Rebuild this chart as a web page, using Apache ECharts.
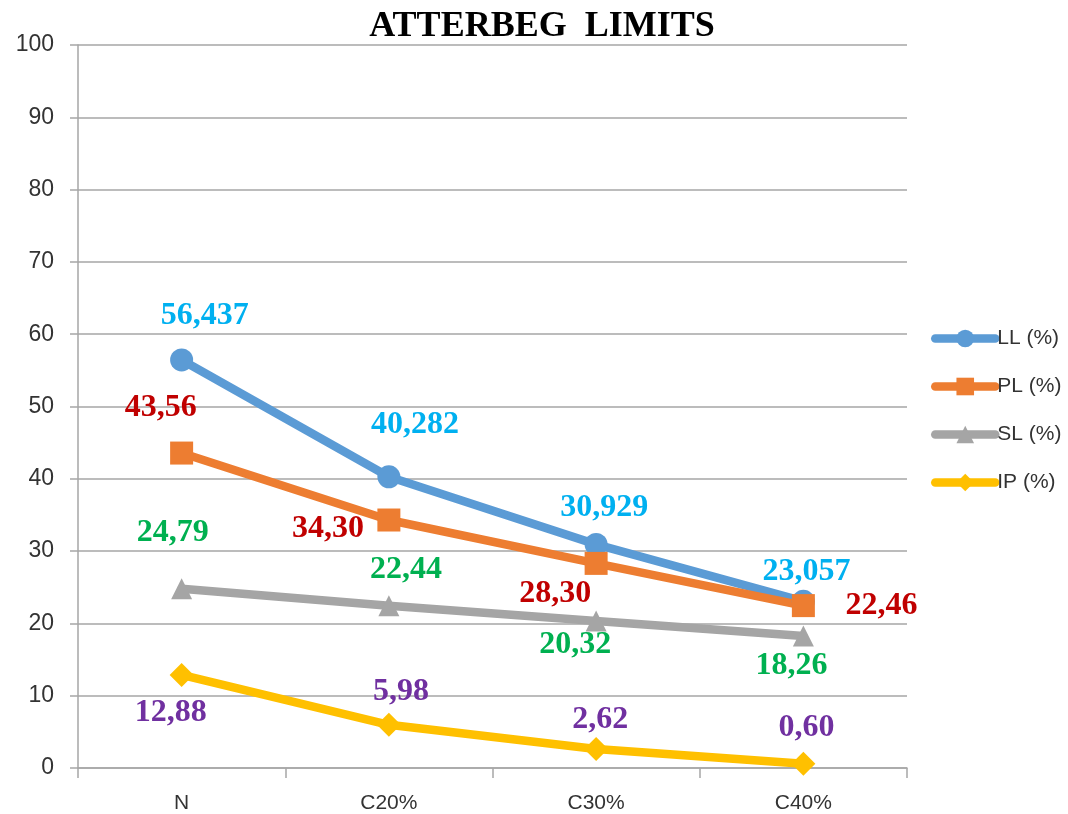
<!DOCTYPE html>
<html>
<head>
<meta charset="utf-8">
<script src="https://cdn.jsdelivr.net/npm/echarts@6/dist/echarts.min.js"></script>
<style>
  html, body { margin: 0; padding: 0; background: #fff; }
  #chart { width: 1068px; height: 814px; }
</style>
</head>
<body>
<div id="chart"></div>
<script>
var categories = ['N', 'C20%', 'C30%', 'C40%'];
var seriesNames = ['LL (%)', 'PL (%)', 'SL (%)', 'IP (%)'];
var llValues = [56.437, 40.282, 30.929, 23.057];
var plValues = [43.56, 34.30, 28.30, 22.46];
var slValues = [24.79, 22.44, 20.32, 18.26];
var ipValues = [12.88, 5.98, 2.62, 0.60];
var yTicks = [0, 100, 10];

// where each data label sits relative to its point (pixels)
var llOffsets = [[23, -44], [26, -52], [8, -37], [3, -30]];
var plOffsets = [[-21, -45], [-61, 9], [-41, 30], [78, 0]];
var slOffsets = [[-9, -56], [17, -36], [-21, 24], [-12, 30]];
var ipOffsets = [[-11, 38], [12, -33], [4, -29], [3, -36]];

function fmt(v, dec) {
    return v.toFixed(dec).replace('.', ',');
}

function buildSeries(name, values, offsets, color, labelColor, symbol, size, dec) {
    return {
        name: name,
        type: 'line',
        symbol: symbol,
        symbolSize: size,
        lineStyle: { width: 8.5, color: color, cap: 'round', join: 'round' },
        itemStyle: { color: color },
        data: values.map(function (v, i) {
            return {
                value: v,
                label: {
                    show: true,
                    position: 'inside',
                    offset: offsets[i],
                    formatter: fmt(v, dec),
                    color: labelColor,
                    fontFamily: 'Liberation Serif',
                    fontWeight: 'bold',
                    fontSize: 32
                }
            };
        }),
        z: 2
    };
}

var myChart = echarts.init(document.getElementById('chart'));
myChart.setOption({
    animation: false,
    backgroundColor: '#fff',
    title: {
        text: 'ATTERBEG  LIMITS',
        left: 537,
        textAlign: 'center',
        top: 4,
        textStyle: { fontFamily: 'Liberation Serif', fontWeight: 'bold', fontSize: 36, color: '#000' }
    },
    legend: {
        orient: 'vertical',
        left: 926,
        top: 323,
        itemGap: 27,
        itemWidth: 60,
        itemHeight: 22,
        lineStyle: { width: 8.5, cap: 'round' },
        textStyle: { fontFamily: 'Liberation Sans', fontSize: 21, color: '#333', padding: [0, 0, 0, -3] },
        data: seriesNames
    },
    grid: { left: 78, right: 161, top: 45, bottom: 46 },
    xAxis: {
        type: 'category',
        data: categories,
        boundaryGap: true,
        axisLine: { lineStyle: { color: '#a6a6a6', width: 1.5 } },
        axisTick: { show: true, length: 10, lineStyle: { color: '#a6a6a6', width: 1.5 } },
        axisLabel: { margin: 25, fontFamily: 'Liberation Sans', fontSize: 21, color: '#333' }
    },
    yAxis: {
        type: 'value',
        min: yTicks[0],
        max: yTicks[1],
        interval: yTicks[2],
        axisLine: { show: true, lineStyle: { color: '#a6a6a6', width: 1.5 } },
        axisTick: { show: true, length: 8, lineStyle: { color: '#a6a6a6', width: 1.5 } },
        splitLine: { lineStyle: { color: '#a6a6a6', width: 1.5 } },
        axisLabel: { margin: 24, fontFamily: 'Liberation Sans', fontSize: 23, color: '#333' }
    },
    series: [
        buildSeries(seriesNames[0], llValues, llOffsets, '#5b9bd5', '#00b0f0', 'circle', 23, 3),
        buildSeries(seriesNames[1], plValues, plOffsets, '#ed7d31', '#c00000', 'rect', 23, 2),
        buildSeries(seriesNames[2], slValues, slOffsets, '#a5a5a5', '#00b050', 'triangle', 21, 2),
        buildSeries(seriesNames[3], ipValues, ipOffsets, '#ffc000', '#7030a0', 'diamond', 24, 2)
    ]
});
</script>
</body>
</html>
